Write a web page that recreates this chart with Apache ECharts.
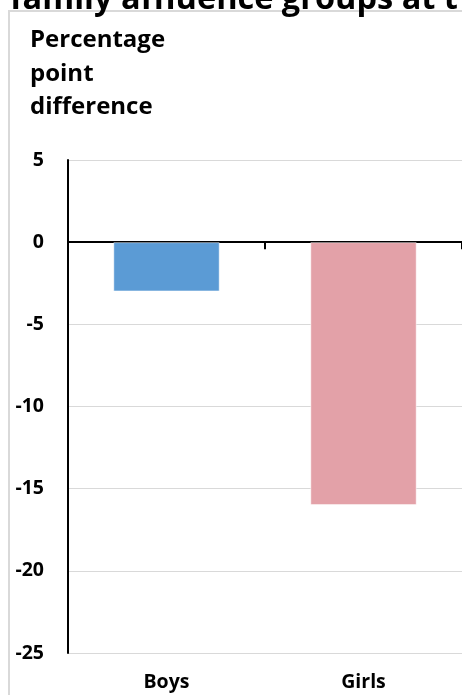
<!DOCTYPE html>
<html><head><meta charset="utf-8">
<script src="https://cdn.jsdelivr.net/npm/echarts@6/dist/echarts.min.js"></script>
<style>html,body{margin:0;padding:0;background:#fff}#c{width:462px;height:695px}</style>
</head><body><div id="c"></div>
<script>
const categories = ["Boys", "Girls"];
const values = [-3, -16];
const barColors = ["#5B9BD5", "#E3A1A8"];
const yTicks = [5, 0, -5, -10, -15, -20, -25];
const titleText = "family affluence groups at t";
const axisName = "Percentage\npoint\ndifference";

const chart = echarts.init(document.getElementById('c'), null, {renderer: 'canvas'});
const F = '"Open Sans", sans-serif';
chart.setOption({
  animation: false,
  title: {
    text: titleText, left: 5, top: -22,
    textStyle: {fontFamily: F, fontWeight: 'bold', fontSize: 32.5, color: '#000'}
  },
  graphic: [{
    type: 'rect', silent: true, z: -1,
    shape: {x: 9, y: 11, width: 600, height: 900},
    style: {fill: 'none', stroke: '#d9d9d9', lineWidth: 2}
  }],
  grid: {left: 68, right: -4, top: 160, bottom: 42, containLabel: false},
  xAxis: [{
    type: 'category', data: categories,
    axisLine: {onZero: true, lineStyle: {color: '#000', width: 2}},
    axisTick: {show: true, length: 7, lineStyle: {color: '#000', width: 2}},
    axisLabel: {show: false}, splitLine: {show: false}
  }, {
    type: 'category', data: categories, position: 'bottom',
    axisLine: {show: false}, axisTick: {show: false},
    axisLabel: {show: true, margin: 19, fontFamily: F, fontWeight: 'bold', fontSize: 19.5, color: '#000'}
  }],
  yAxis: {
    type: 'value', min: -25, max: 5, interval: 5,
    name: axisName, nameLocation: 'end', nameGap: 36,
    nameTextStyle: {fontFamily: F, fontWeight: 'bold', fontSize: 24, color: '#000', align: 'left', verticalAlign: 'bottom', lineHeight: 33.5, padding: [0, 0, 0, -38]},
    axisLine: {show: true, lineStyle: {color: '#000', width: 2}},
    axisTick: {show: false},
    axisLabel: {margin: 24, fontFamily: F, fontWeight: 'bold', fontSize: 19.5, color: '#000'},
    splitLine: {show: true, lineStyle: {color: '#d9d9d9', width: 1}}
  },
  series: [{
    type: 'bar', xAxisIndex: 0, barWidth: '54%',
    data: values.map((v, i) => ({value: v, itemStyle: {color: barColors[i], borderColor: 'rgba(255,255,255,0.5)', borderWidth: 1}}))
  }]
});
</script></body></html>
